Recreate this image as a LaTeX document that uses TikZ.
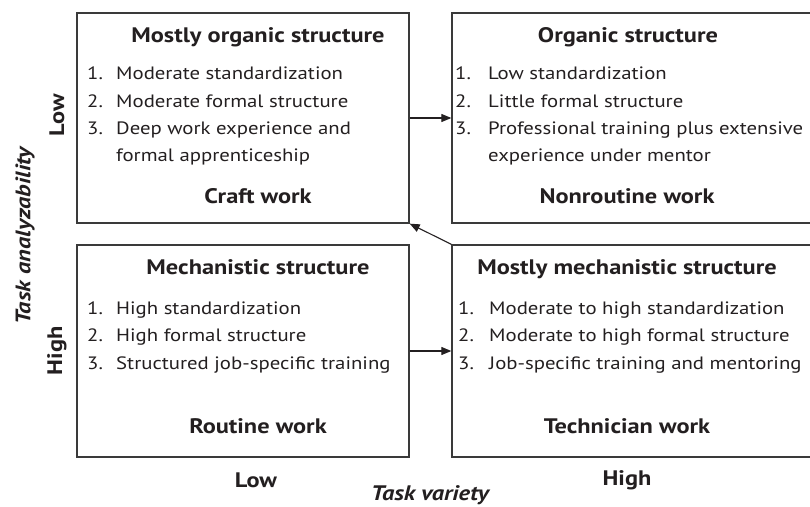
\documentclass[tikz,border=0pt]{standalone}
\usepackage{fontspec}
\setmainfont{PT Sans}[FakeStretch=1.16]
\usetikzlibrary{arrows.meta}
\definecolor{ink}{HTML}{231F20}
\definecolor{frame}{HTML}{3A3A3A}
\begin{document}
\begin{tikzpicture}[x=1pt,y=-1pt,
  cell/.style={draw=frame, line width=1.3pt, rectangle, inner sep=0pt},
  head/.style={font=\fontsize{21}{24}\selectfont\bfseries, text=ink, anchor=mid, inner sep=0pt},
  entry/.style={font=\fontsize{17.9}{22}\selectfont, text=ink, anchor=mid west, inner sep=0pt},
  axis/.style={font=\fontsize{21}{24}\selectfont\bfseries, text=ink, inner sep=0pt},
  axistitle/.style={font=\fontsize{21}{24}\selectfont\bfseries\itshape, text=ink, inner sep=0pt},
  link/.style={draw=ink, line width=1.1pt, -{Triangle[length=10pt,width=8pt]}}]
\clip (0,0) rectangle (810,506);

% the four quadrants
\node[cell, minimum width=332pt, minimum height=210pt] (tl) at (243,118) {};
\node[cell, minimum width=378pt, minimum height=210pt] (tr) at (641,118) {};
\node[cell, minimum width=332pt, minimum height=212pt] (bl) at (243,351) {};
\node[cell, minimum width=378pt, minimum height=212pt] (br) at (641,351) {};

% craft work
\node[head] (tlh) at (258,40) {Mostly organic structure};
\node[entry] (tln1) at (87,77) {1.};
\node[entry] (tlt1) at (116,77) {Moderate standardization};
\node[entry] (tln2) at (87,105) {2.};
\node[entry] (tlt2) at (116,105) {Moderate formal structure};
\node[entry] (tln3) at (87,132) {3.};
\node[entry] (tlt3) at (116,132) {Deep work experience and};
\node[entry] (tlt4) at (116,159) {formal apprenticeship};
\node[head] (tlf) at (258,201) {Craft work};

% nonroutine work
\node[head] (trh) at (628,40) {Organic structure};
\node[entry] (trn1) at (455,77) {1.};
\node[entry] (trt1) at (488,77) {Low standardization};
\node[entry] (trn2) at (455,105) {2.};
\node[entry] (trt2) at (488,105) {Little formal structure};
\node[entry] (trn3) at (455,132) {3.};
\node[entry] (trt3) at (488,132) {Professional training plus extensive};
\node[entry] (trt4) at (488,159) {experience under mentor};
\node[head] (trf) at (627,201) {Nonroutine work};

% routine work
\node[head] (blh) at (258,272) {Mechanistic structure};
\node[entry] (bln1) at (87,312) {1.};
\node[entry] (blt1) at (116,312) {High standardization};
\node[entry] (bln2) at (87,339) {2.};
\node[entry] (blt2) at (116,339) {High formal structure};
\node[entry] (bln3) at (87,367) {3.};
\node[entry] (blt3) at (116,367) {Structured job-specific training};
\node[head] (blf) at (258,431) {Routine work};

% technician work
\node[head] (brh) at (627,272) {Mostly mechanistic structure};
\node[entry] (brn1) at (458,312) {1.};
\node[entry] (brt1) at (489,312) {Moderate to high standardization};
\node[entry] (brn2) at (458,339) {2.};
\node[entry] (brt2) at (489,339) {Moderate to high formal structure};
\node[entry] (brn3) at (458,367) {3.};
\node[entry] (brt3) at (489,367) {Job-specific training and mentoring};
\node[head] (brf) at (627,431) {Technician work};

% transitions
\draw[link] (tl.east) -- (tr.west);
\draw[link] (bl.east) -- (br.west);
\draw[link] (br.north west) -- (tl.south east);

% axes
\node[axis, rotate=90] (ylow) at (57,115) {Low};
\node[axis, rotate=90] (yhigh) at (57,351) {High};
\node[axistitle, rotate=90] (ytitle) at (25,236) {Task analyzability};
\node[axis] (xlow) at (256,480) {Low};
\node[axis] (xhigh) at (627,480) {High};
\node[axistitle] (xtitle) at (430,495) {Task variety};
\end{tikzpicture}
\end{document}
